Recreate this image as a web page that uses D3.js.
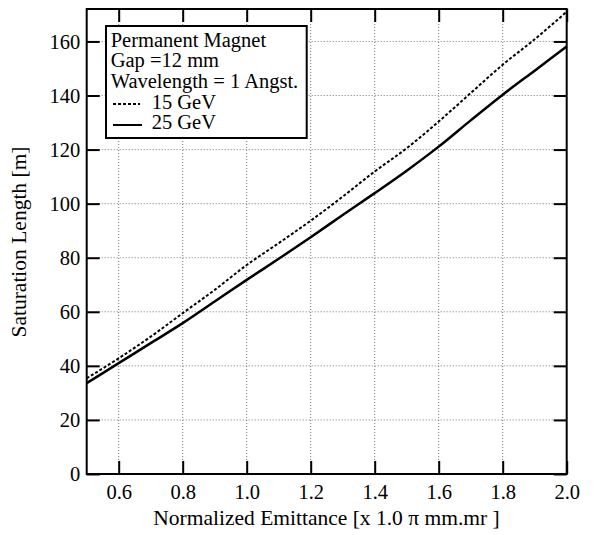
<!DOCTYPE html>
<html>
<head>
<meta charset="utf-8">
<script src="https://cdn.jsdelivr.net/npm/d3@7"></script>
<style>
  html, body { margin: 0; padding: 0; background: #fff; }
  svg, svg text { font-family: "Liberation Serif", "Times New Roman", serif; }
  svg { display: block; }
</style>
</head>
<body>
<svg id="chart" width="594" height="535"></svg>
<script>
// Normalized emittance (x 1.0 pi mm.mr)
const emittance = [0.5, 0.6, 0.7, 0.8, 0.9, 1.0, 1.1, 1.2, 1.3, 1.4, 1.5, 1.6, 1.7, 1.8, 1.9, 2.0];
// Saturation length [m] for each beam energy
const sat15GeV = [35.4, 42.8, 50.8, 59.5, 68.1, 77.3, 85.4, 93.7, 102.6, 111.9, 120.5, 130.4, 140.9, 151.4, 160.8, 171.0];
const sat25GeV = [33.6, 41.0, 48.4, 55.8, 63.8, 71.8, 79.6, 87.6, 95.8, 103.9, 112.2, 121.1, 130.8, 140.3, 149.2, 158.1];

const xTicks = [0.6, 0.8, 1.0, 1.2, 1.4, 1.6, 1.8, 2.0];
const yTicks = [0, 20, 40, 60, 80, 100, 120, 140, 160];

const legendLines = ["Permanent Magnet", "Gap =12 mm", "Wavelength = 1 Angst."];
const seriesNames = ["15 GeV", "25 GeV"];

const serif = "'Liberation Serif', 'Times New Roman', serif";
const svg = d3.select("#chart");
const plotL = 86.7, plotR = 566.7, plotT = 9, plotB = 474;

const x = d3.scaleLinear().domain([0.5, 2.0]).range([plotL, plotR]);
const y = d3.scaleLinear().domain([0, 172]).range([plotB, plotT]);

// Dotted grid
const grid = svg.append("g").attr("stroke", "#777").attr("stroke-width", 1)
  .attr("stroke-dasharray", "1,2");
grid.selectAll("line.gx").data(xTicks.filter(d => d < 2.0)).join("line")
  .attr("class", "gx")
  .attr("x1", d => x(d)).attr("x2", d => x(d)).attr("y1", plotT).attr("y2", plotB);
grid.selectAll("line.gy").data(yTicks.filter(d => d > 0)).join("line")
  .attr("class", "gy")
  .attr("x1", plotL).attr("x2", plotR).attr("y1", d => y(d)).attr("y2", d => y(d));

// Axes with inward ticks
const tickLen = 13;
const fmtX = d3.format(".1f");
const gx = svg.append("g").attr("transform", `translate(0,${plotB})`)
  .call(d3.axisBottom(x).tickValues(xTicks).tickSize(-tickLen).tickPadding(10.5).tickFormat(fmtX));
const gxTop = svg.append("g").attr("transform", `translate(0,${plotT})`)
  .call(d3.axisTop(x).tickValues(xTicks).tickSize(-tickLen).tickFormat(""));
const gy = svg.append("g").attr("transform", `translate(${plotL},0)`)
  .call(d3.axisLeft(y).tickValues(yTicks).tickSize(-tickLen).tickPadding(6.5));
const gyRight = svg.append("g").attr("transform", `translate(${plotR},0)`)
  .call(d3.axisRight(y).tickValues(yTicks).tickSize(-tickLen).tickFormat(""));

[gx, gxTop, gy, gyRight].forEach(g => {
  g.attr("font-family", serif).attr("font-size", 20.5);
  g.select(".domain").remove();
  g.selectAll(".tick line").attr("stroke", "#000").attr("stroke-width", 2);
  g.selectAll(".tick text").attr("fill", "#000");
});

// Frame
svg.append("rect").attr("x", plotL).attr("y", plotT)
  .attr("width", plotR - plotL).attr("height", plotB - plotT)
  .attr("fill", "none").attr("stroke", "#000").attr("stroke-width", 2);

// Curves
const line = d3.line().x(d => x(d[0])).y(d => y(d[1])).curve(d3.curveMonotoneX);
svg.append("path").datum(d3.zip(emittance, sat15GeV)).attr("d", line)
  .attr("fill", "none").attr("stroke", "#000").attr("stroke-width", 2)
  .attr("stroke-dasharray", "3,2");
svg.append("path").datum(d3.zip(emittance, sat25GeV)).attr("d", line)
  .attr("fill", "none").attr("stroke", "#000").attr("stroke-width", 2.5)
  .attr("stroke-linejoin", "round");

// Axis titles
svg.append("text").attr("x", 326.5).attr("y", 525).attr("text-anchor", "middle")
  .attr("font-family", serif).attr("font-size", 21.5)
  .text("Normalized Emittance [x 1.0 \u03c0 mm.mr ]");
svg.append("text").attr("transform", "translate(26,242) rotate(-90)")
  .attr("text-anchor", "middle").attr("font-family", serif).attr("font-size", 21.5)
  .text("Saturation Length [m]");

// Legend
const lg = svg.append("g").attr("font-family", serif).attr("font-size", 20.5);
lg.append("rect").attr("x", 106).attr("y", 26).attr("width", 200.7).attr("height", 112)
  .attr("fill", "#fff").attr("stroke", "#000").attr("stroke-width", 2);
lg.selectAll("text.hdr").data(legendLines).join("text")
  .attr("class", "hdr")
  .attr("x", 110.7).attr("y", (d, i) => 46.7 + i * 20.7)
  .text(d => d);
lg.append("line").attr("x1", 113).attr("x2", 140).attr("y1", 104).attr("y2", 104)
  .attr("stroke", "#000").attr("stroke-width", 2).attr("stroke-dasharray", "3,2");
lg.append("line").attr("x1", 113).attr("x2", 142).attr("y1", 125).attr("y2", 125)
  .attr("stroke", "#000").attr("stroke-width", 2);
lg.selectAll("text.ser").data(seriesNames).join("text")
  .attr("class", "ser")
  .attr("x", 151.7).attr("y", (d, i) => 108.7 + i * 20.7)
  .text(d => d);
</script>
</body>
</html>
